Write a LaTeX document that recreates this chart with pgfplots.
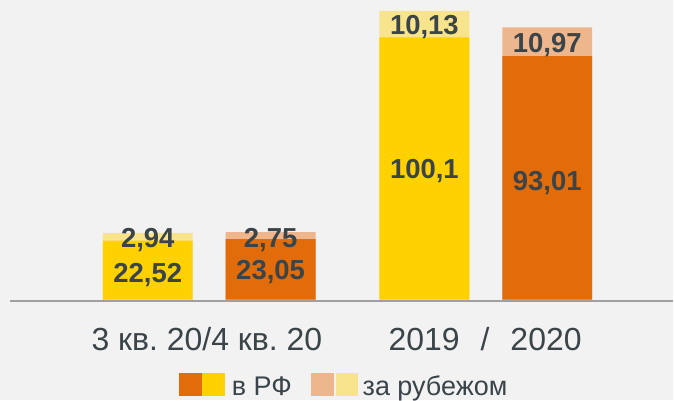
\documentclass[border=0pt]{standalone}
\usepackage{fontspec}
\setmainfont{Liberation Sans}
\usepackage{pgfplots}
\pgfplotsset{compat=1.18}
\definecolor{bg}{HTML}{F2F2F2}
\definecolor{ye}{HTML}{FFD100}
\definecolor{ly}{HTML}{F8E48C}
\definecolor{or}{HTML}{E36C0A}
\definecolor{lo}{HTML}{EDB68C}
\definecolor{tx}{HTML}{3A4449}
\definecolor{axl}{HTML}{A0A0A0}
\frenchspacing
\begin{document}
\begin{tikzpicture}
\fill[bg] (0,0) rectangle (674pt,401pt);
\begin{axis}[
  at={(0,0)}, anchor=south west,
  width=674pt, height=401pt, scale only axis,
  xmin=0, xmax=674, ymin=-38.52, ymax=114.42,
  hide axis, clip=false,
]
% bars: light (total) behind, dark (domestic) in front
\addplot[ybar, bar width=90pt, bar shift=0pt, fill=ly, draw=none] coordinates {(148,25.46) (425,110.23)};
\addplot[ybar, bar width=90pt, bar shift=0pt, fill=ye, draw=none] coordinates {(148,22.52) (425,100.1)};
\addplot[ybar, bar width=90pt, bar shift=0pt, fill=lo, draw=none] coordinates {(271,25.80) (548,103.98)};
\addplot[ybar, bar width=90pt, bar shift=0pt, fill=or, draw=none] coordinates {(271,23.05) (548,93.01)};
% value labels
\addplot[draw=none, mark=none, point meta=explicit symbolic, nodes near coords,
  every node near coord/.append style={font=\fontsize{27.5}{32}\selectfont\bfseries, text=tx, anchor=base, inner sep=0pt}]
  coordinates {
  (148,19.72) [2,94]
  (148,6.60) [22,52]
  (271,19.95) [2,75]
  (271,7.63) [23,05]
  (425,101.07) [10,13]
  (425,46.15) [100,1]
  (548,94.47) [10,97]
  (548,41.57) [93,01]
  };
\draw[axl, line width=2pt] (axis cs:10,-0.38) -- (axis cs:674,-0.38);
% category labels
\node[anchor=base west, inner sep=0pt, text=tx, font=\fontsize{32}{36}\selectfont] at (axis cs:91.5,-19.45) {3 кв. 20/4 кв. 20};
\node[anchor=base west, inner sep=0pt, text=tx, font=\fontsize{32}{36}\selectfont] at (axis cs:389,-19.45) {2019\hspace{21pt}/\hspace{21pt}2020};
% legend
\fill[or] (axis cs:179,-28.22) rectangle (axis cs:202,-37.0);
\fill[ye] (axis cs:202,-28.22) rectangle (axis cs:225,-37.0);
\node[anchor=base west, inner sep=0pt, text=tx, font=\fontsize{27}{30}\selectfont] at (axis cs:232,-36.61) {в РФ};
\fill[lo] (axis cs:311,-28.22) rectangle (axis cs:334,-37.0);
\fill[ly] (axis cs:336,-28.22) rectangle (axis cs:359,-37.0);
\node[anchor=base west, inner sep=0pt, text=tx, font=\fontsize{27}{30}\selectfont] at (axis cs:363,-36.61) {за рубежом};
\end{axis}
\end{tikzpicture}
\end{document}
